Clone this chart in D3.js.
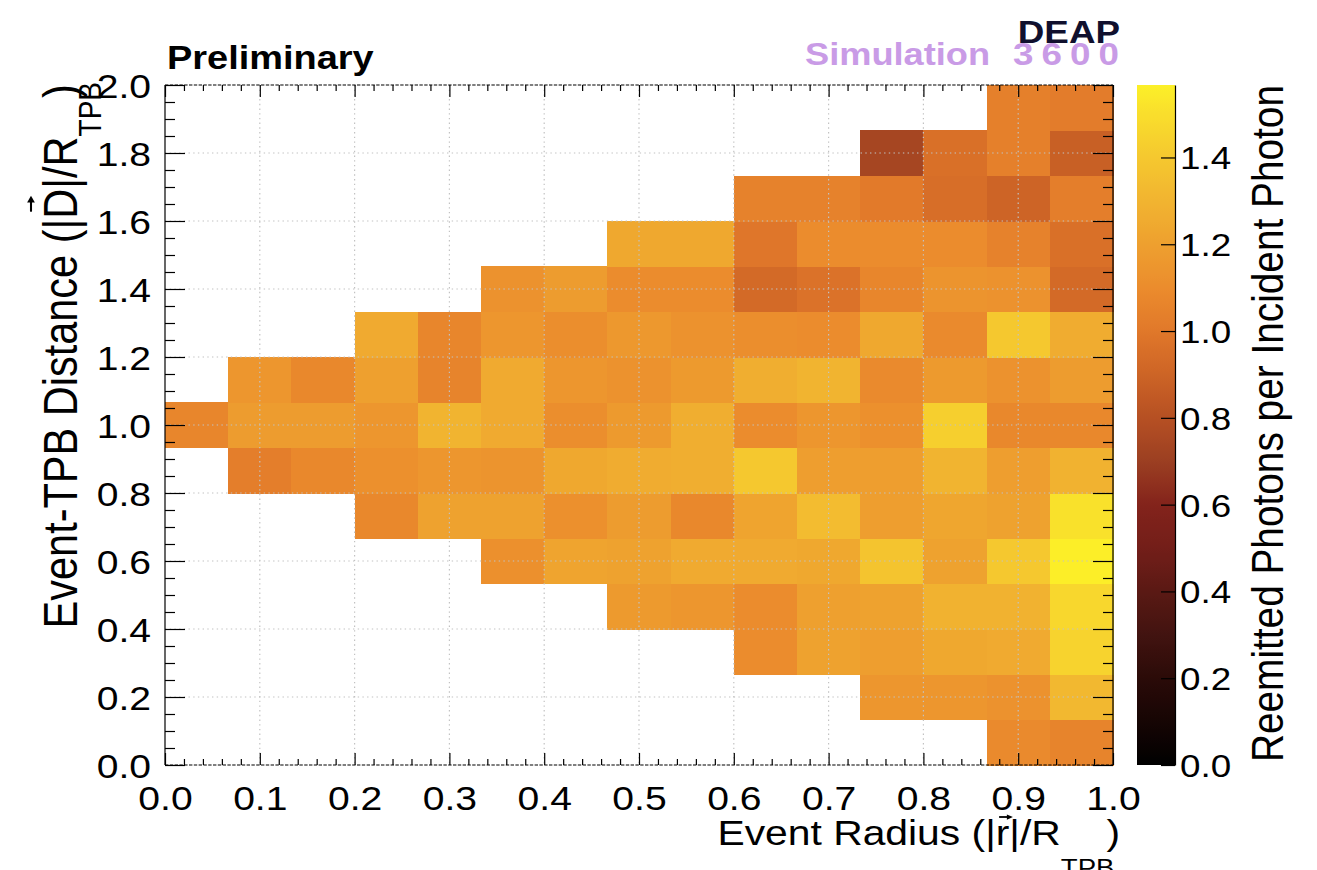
<!DOCTYPE html>
<html><head><meta charset="utf-8">
<script src="https://cdn.jsdelivr.net/npm/d3@7"></script>
<style>
html,body{margin:0;padding:0;background:#fff;}
svg{display:block;}
</style></head><body>
<svg id="chart" width="1317" height="870"></svg>
<script>
// ---------------- data ----------------
const xRange = [0, 1];      // Event radius |r|/R_TPB
const yRange = [0, 2];      // Event-TPB distance |D|/R_TPB
const nBinsX = 15, nBinsY = 15;
// rows of bin contents, bottom row (y 0 - 0.133) first; null = empty bin
const row00 = [null,null,null,null,null,null,null,null,null,null,null,null,null,1.09,1.06];
const row01 = [null,null,null,null,null,null,null,null,null,null,null,1.15,1.15,1.13,1.32];
const row02 = [null,null,null,null,null,null,null,null,null,1.10,1.21,1.19,1.24,1.25,1.45];
const row03 = [null,null,null,null,null,null,null,1.17,1.15,1.10,1.20,1.21,1.29,1.29,1.47];
const row04 = [null,null,null,null,null,1.12,1.22,1.21,1.25,1.25,1.24,1.38,1.21,1.40,1.56];
const row05 = [null,null,null,1.08,1.21,1.21,1.12,1.18,1.08,1.22,1.34,1.19,1.23,1.21,1.51];
const row06 = [null,1.03,1.08,1.12,1.15,1.14,1.24,1.26,1.27,1.40,1.19,1.19,1.30,1.19,1.29];
const row07 = [1.07,1.18,1.18,1.15,1.30,1.25,1.11,1.17,1.27,1.10,1.15,1.12,1.43,1.08,1.08];
const row08 = [null,1.15,1.08,1.20,1.06,1.25,1.15,1.13,1.17,1.27,1.30,1.09,1.17,1.13,1.18];
const row09 = [null,null,null,1.25,1.07,1.15,1.11,1.16,1.13,1.11,1.10,1.24,1.09,1.40,1.26];
const row10 = [null,null,null,null,null,1.13,1.18,1.10,1.10,0.93,0.97,1.07,1.14,1.13,0.93];
const row11 = [null,null,null,null,null,null,null,1.24,1.24,0.99,1.10,1.10,1.10,1.05,0.96];
const row12 = [null,null,null,null,null,null,null,null,null,1.05,1.05,1.01,0.95,0.90,1.03];
const row13 = [null,null,null,null,null,null,null,null,null,null,null,0.74,0.96,1.04,0.88];
const row14 = [null,null,null,null,null,null,null,null,null,null,null,null,null,1.04,1.02];

const xTicks = [0.0,0.1,0.2,0.3,0.4,0.5,0.6,0.7,0.8,0.9,1.0];
const yTicks = [0.0,0.2,0.4,0.6,0.8,1.0,1.2,1.4,1.6,1.8,2.0];
const zTicks = [0.0,0.2,0.4,0.6,0.8,1.0,1.2,1.4];
const zMax = 1.567;
// colour palette (value -> colour)
const paletteValues = [0.0,0.1,0.2,0.3,0.4,0.5,0.6,0.7,0.8,0.9,1.0,1.1,1.2,1.3,1.4,1.5,1.567];
const paletteColors = ["#000000","#160504","#2b0b08","#421310","#5a1914","#731e19","#83231b","#9c3f22",
                       "#b65023","#cd6426","#e1782a","#eb8c2d","#eea02f","#f1b430","#f5c82f","#f9de2c","#fcf028"];

// ---------------- layout ----------------
const FONT = '"Liberation Sans", Arial, Helvetica, sans-serif';
const S = 1.15;                 // horizontal glyph stretch of the original picture
const W = 1317, H = 870;
const P = {left:165, right:1113, top:85, bottom:765};
const CB = {x0:1137, x1:1175};

const svg = d3.select('#chart').attr('font-family', FONT);
svg.append('rect').attr('width', W).attr('height', H).attr('fill', '#fff');

const x = d3.scaleLinear().domain(xRange).range([P.left, P.right]);
const y = d3.scaleLinear().domain(yRange).range([P.bottom, P.top]);
const z = d3.scaleLinear().domain(paletteValues).range(paletteColors).clamp(true);
const zAxisScale = d3.scaleLinear().domain([0, zMax]).range([P.bottom, P.top]);

// ---------------- cells ----------------
const rows = [row00,row01,row02,row03,row04,row05,row06,row07,row08,row09,row10,row11,row12,row13,row14];
const bw = (xRange[1]-xRange[0])/nBinsX, bh = (yRange[1]-yRange[0])/nBinsY;
const cells = [];
rows.forEach((r, j) => r.forEach((v, i) => { if (v != null) cells.push({i, j, v}); }));
svg.append('g').selectAll('rect').data(cells).join('rect')
  .attr('x', d => x(xRange[0] + d.i*bw))
  .attr('y', d => y(yRange[0] + (d.j+1)*bh))
  .attr('width', d => x(xRange[0] + (d.i+1)*bw) - x(xRange[0] + d.i*bw) + 0.5)
  .attr('height', d => y(yRange[0] + d.j*bh) - y(yRange[0] + (d.j+1)*bh) + 0.5)
  .attr('fill', d => z(d.v))
  .attr('shape-rendering', 'crispEdges');

// ---------------- grid ----------------
const grid = svg.append('g').attr('stroke', '#c2c2c2').attr('stroke-width', 1.2).attr('stroke-dasharray', '1.4,3.3');
grid.selectAll('line.gx').data(xTicks.slice(1, -1)).join('line').attr('class','gx')
  .attr('x1', d => x(d)).attr('x2', d => x(d)).attr('y1', P.top).attr('y2', P.bottom);
grid.selectAll('line.gy').data(yTicks.slice(1, -1)).join('line').attr('class','gy')
  .attr('y1', d => y(d)).attr('y2', d => y(d)).attr('x1', P.left).attr('x2', P.right);

// ---------------- axes ----------------
const fmt = d3.format('.1f');
const xMinor = d3.range(0, 51).filter(k => k % 5 !== 0).map(k => k/50);
const yMinor = d3.range(0, 41).filter(k => k % 4 !== 0).map(k => k/20);

function styleAxis(g){
  g.select('.domain').remove();
  g.selectAll('line').attr('stroke', '#000').attr('stroke-width', 1.2);
  g.attr('font-family', FONT);
}
// bottom
const gB = svg.append('g').attr('transform', `translate(0,${P.bottom})`)
  .call(d3.axisBottom(x).tickValues(xTicks).tickSize(-12).tickSizeOuter(0).tickFormat(fmt));
styleAxis(gB);
gB.attr('font-size', 34);
gB.selectAll('text').attr('y', 45).attr('dy', null).attr('fill', '#000')
  .attr('transform', `scale(${S},1)`);
svg.append('g').attr('transform', `translate(0,${P.bottom})`)
  .call(d3.axisBottom(x).tickValues(xMinor).tickSize(-6).tickSizeOuter(0).tickFormat('')).call(styleAxis);
// top
svg.append('g').attr('transform', `translate(0,${P.top})`)
  .call(d3.axisTop(x).tickValues(xTicks).tickSize(-12).tickSizeOuter(0).tickFormat('')).call(styleAxis);
svg.append('g').attr('transform', `translate(0,${P.top})`)
  .call(d3.axisTop(x).tickValues(xMinor).tickSize(-6).tickSizeOuter(0).tickFormat('')).call(styleAxis);
// left
const gL = svg.append('g').attr('transform', `translate(${P.left},0)`)
  .call(d3.axisLeft(y).tickValues(yTicks).tickSize(-20).tickSizeOuter(0).tickFormat(fmt));
styleAxis(gL);
gL.attr('font-size', 34);
gL.selectAll('text').attr('x', -14).attr('dy', '0.36em').attr('fill', '#000')
  .attr('transform', `translate(-14,0) scale(${S},1) translate(14,0)`);
svg.append('g').attr('transform', `translate(${P.left},0)`)
  .call(d3.axisLeft(y).tickValues(yMinor).tickSize(-10).tickSizeOuter(0).tickFormat('')).call(styleAxis);
// right
svg.append('g').attr('transform', `translate(${P.right},0)`)
  .call(d3.axisRight(y).tickValues(yTicks).tickSize(-20).tickSizeOuter(0).tickFormat('')).call(styleAxis);
svg.append('g').attr('transform', `translate(${P.right},0)`)
  .call(d3.axisRight(y).tickValues(yMinor).tickSize(-10).tickSizeOuter(0).tickFormat('')).call(styleAxis);

// frame
const frame = svg.append('g').attr('stroke', '#000').attr('stroke-width', 1.2);
frame.append('line').attr('x1', P.left).attr('x2', P.left).attr('y1', P.top).attr('y2', P.bottom);
frame.append('line').attr('x1', P.right).attr('x2', P.right).attr('y1', P.top).attr('y2', P.bottom);
frame.append('line').attr('x1', P.left).attr('x2', P.right).attr('y1', P.top).attr('y2', P.top).attr('stroke-dasharray', '3.4,1.4');
frame.append('line').attr('x1', P.left).attr('x2', P.right).attr('y1', P.bottom).attr('y2', P.bottom).attr('stroke-dasharray', '3.4,1.4');

// ---------------- colour bar ----------------
const defs = svg.append('defs');
const grad = defs.append('linearGradient').attr('id', 'zgrad')
  .attr('x1', 0).attr('y1', 1).attr('x2', 0).attr('y2', 0);
d3.range(0, 101).forEach(k => {
  const v = zMax * k / 100;
  grad.append('stop').attr('offset', (k/100)).attr('stop-color', z(v));
});
svg.append('rect').attr('x', CB.x0).attr('y', P.top).attr('width', CB.x1 - CB.x0)
  .attr('height', P.bottom - P.top).attr('fill', 'url(#zgrad)');
const gZ = svg.append('g').attr('transform', `translate(${CB.x1},0)`)
  .call(d3.axisRight(zAxisScale).tickValues(zTicks).tickSize(-14).tickSizeOuter(0).tickFormat(fmt));
gZ.attr('font-family', FONT).attr('font-size', 32);
gZ.select('.domain').attr('stroke', '#000').attr('stroke-width', 1.2);
gZ.selectAll('line').attr('stroke', '#000').attr('stroke-width', 1.2);
gZ.selectAll('text').attr('x', 5).attr('dy', '0.36em').attr('fill', '#000')
  .attr('transform', `translate(5,0) scale(${S},1) translate(-5,0)`);

// ---------------- titles ----------------
function vecArrow(g, cx, cy, len, head){
  g.append('path').attr('d', `M${cx-len/2},${cy}L${cx+len/2-head},${cy}`)
    .attr('stroke', '#000').attr('stroke-width', 1.8).attr('fill', 'none');
  g.append('path').attr('d', `M${cx+len/2},${cy}L${cx+len/2-head*1.5},${cy-head*0.75}L${cx+len/2-head*1.5},${cy+head*0.75}Z`)
    .attr('fill', '#000');
}

// x title
const gxT = svg.append('g').attr('transform', `translate(1120,845) scale(${S},1)`);
const xT = gxT.append('text').attr('text-anchor', 'end').attr('font-size', 35.5).attr('fill', '#000');
xT.append('tspan').text('Event Radius (|r|/R');
xT.append('tspan').attr('font-size', 24).attr('dy', 31).text('TPB');
xT.append('tspan').attr('dy', -31).attr('dx', -7).text(')');
{
  const n = xT.node(), idx = 'Event Radius (|'.length;
  const s0 = n.getStartPositionOfChar(idx).x, e0 = n.getEndPositionOfChar(idx).x;
  vecArrow(gxT, (s0+e0)/2 + 3, -28, 12, 3.5);
}

// y title
const gyT = svg.append('g').attr('transform', `translate(77,82) scale(${S},1) rotate(-90)`);
const yT = gyT.append('text').attr('text-anchor', 'end').attr('font-size', 41.5).attr('fill', '#000');
yT.append('tspan').text('Event-TPB Distance (|D|/R');
yT.append('tspan').attr('font-size', 28).attr('dy', 21).text('TPB');
yT.append('tspan').attr('dy', -21).attr('dx', -16).text(')');
{
  const n = yT.node(), idx = 'Event-TPB Distance (|'.length;
  const s0 = n.getStartPositionOfChar(idx).x, e0 = n.getEndPositionOfChar(idx).x;
  vecArrow(gyT, (s0+e0)/2, -40, 16, 4.5);
}

// colour bar title
const gzT = svg.append('g').attr('transform', `translate(1283,85) scale(${S},1) rotate(-90)`);
gzT.append('text').attr('text-anchor', 'end').attr('font-size', 38.8).attr('fill', '#000')
  .text('Reemitted Photons per Incident Photon');

// labels
svg.append('g').attr('transform', `translate(167,69) scale(${S},1)`)
  .append('text').attr('font-size', 33).attr('font-weight', 'bold').attr('fill', '#000').text('Preliminary');
svg.append('g').attr('transform', `translate(1120,43) scale(${S},1)`)
  .append('text').attr('text-anchor', 'end').attr('font-size', 32).attr('font-weight', 'bold')
  .attr('fill', '#10102e').text('DEAP');
svg.append('g').attr('transform', `translate(805,65) scale(${S},1)`)
  .append('text').attr('font-size', 31.5).attr('font-weight', 'bold').attr('fill', '#c99be6').text('Simulation');
svg.append('g').attr('transform', `translate(1013,65) scale(${S},1)`)
  .append('text').attr('font-size', 32).attr('font-weight', 'bold').attr('letter-spacing', 7)
  .attr('fill', '#c99be6').text('3600');
</script>
</body></html>
